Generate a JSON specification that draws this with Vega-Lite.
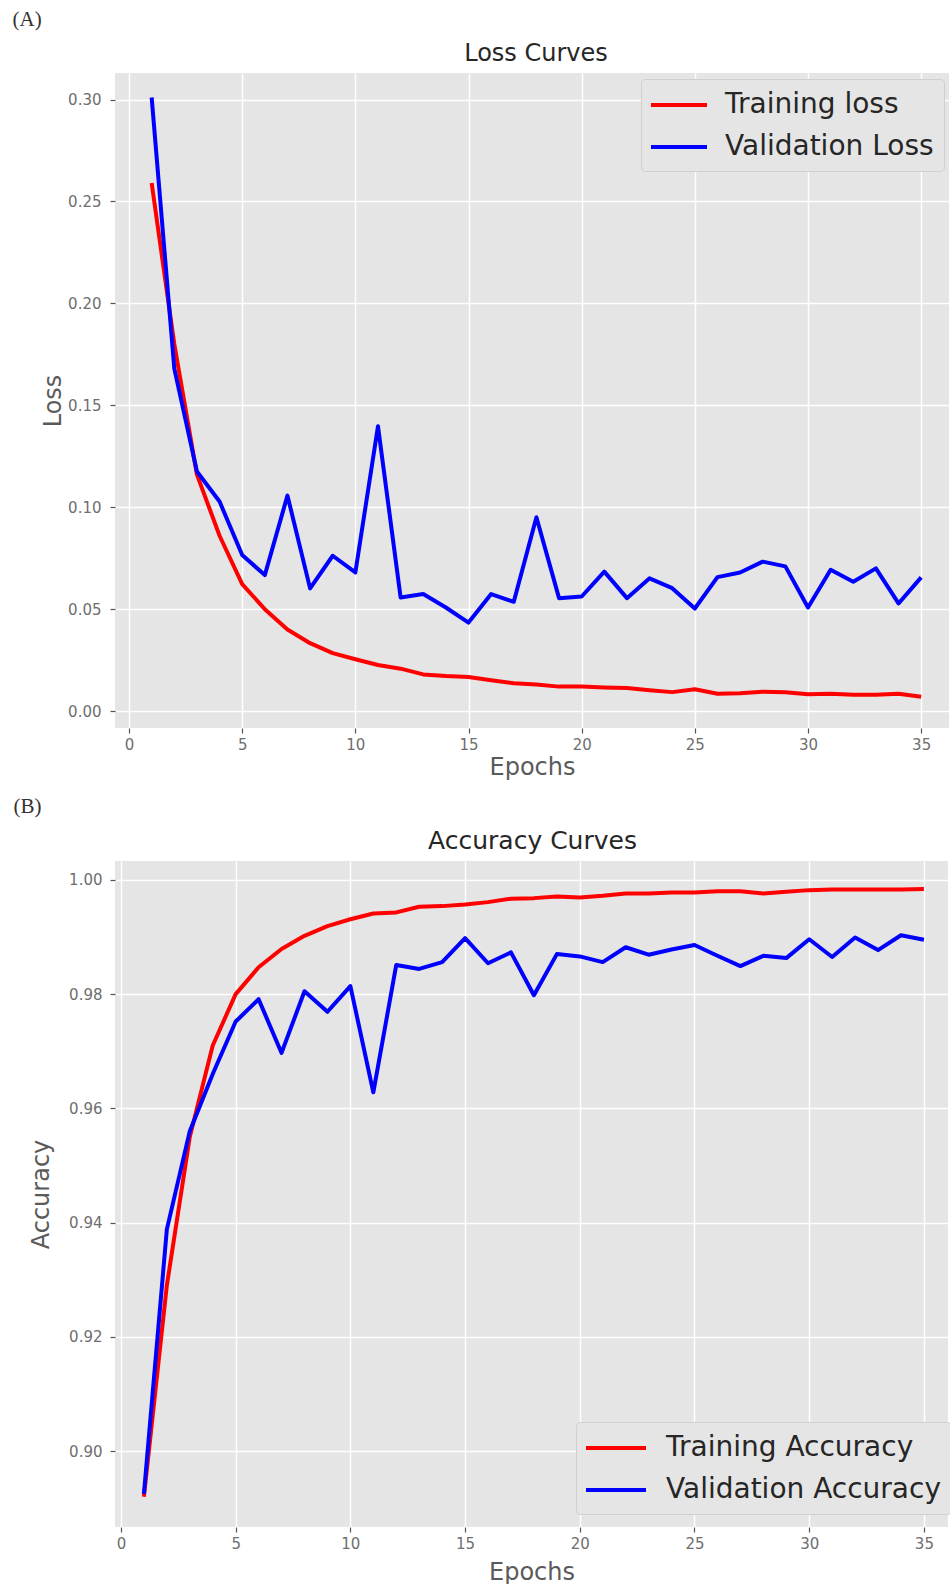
{
  "$schema": "https://vega.github.io/schema/vega-lite/v6.json",
  "padding": {"left": 12, "top": 9, "right": 0, "bottom": 0},
  "background": "white",
  "spacing": 17,
  "resolve": {"scale": {"color": "independent", "x": "independent", "y": "independent"}, "legend": {"color": "independent"}},
  "config": {
    "font": "DejaVu Sans",
    "view": {"fill": "#E5E5E5", "stroke": null},
    "axis": {
      "domain": false, "grid": true, "gridColor": "#FFFFFF", "gridWidth": 1.5,
      "tickColor": "#555555", "tickSize": 5, "tickWidth": 1.2,
      "labelFont": "DejaVu Sans", "labelFontSize": 15, "labelColor": "#6E6E6E",
      "titleFont": "DejaVu Sans", "titleFontSize": 24, "titleFontWeight": "normal", "titleColor": "#5A5A5A"
    },
    "legend": {
      "title": null, "symbolSize": 784, "symbolStrokeWidth": 4,
      "labelFont": "DejaVu Sans", "labelFontSize": 28, "labelColor": "#262626", "labelLimit": 600,
      "padding": 10, "fillColor": "#E5E5E5", "strokeColor": "#CFCFCF", "cornerRadius": 4
    },
    "title": {"font": "DejaVu Sans", "fontWeight": "normal"}
  },
  "datasets": {
    "loss": [
      {"epoch": 1, "series": "Training loss", "value": 0.259},
      {"epoch": 2, "series": "Training loss", "value": 0.180},
      {"epoch": 3, "series": "Training loss", "value": 0.116},
      {"epoch": 4, "series": "Training loss", "value": 0.086},
      {"epoch": 5, "series": "Training loss", "value": 0.0623},
      {"epoch": 6, "series": "Training loss", "value": 0.050},
      {"epoch": 7, "series": "Training loss", "value": 0.040},
      {"epoch": 8, "series": "Training loss", "value": 0.0333},
      {"epoch": 9, "series": "Training loss", "value": 0.0284},
      {"epoch": 10, "series": "Training loss", "value": 0.0254},
      {"epoch": 11, "series": "Training loss", "value": 0.0226},
      {"epoch": 12, "series": "Training loss", "value": 0.0208},
      {"epoch": 13, "series": "Training loss", "value": 0.018},
      {"epoch": 14, "series": "Training loss", "value": 0.0172},
      {"epoch": 15, "series": "Training loss", "value": 0.0167},
      {"epoch": 16, "series": "Training loss", "value": 0.0151},
      {"epoch": 17, "series": "Training loss", "value": 0.0136},
      {"epoch": 18, "series": "Training loss", "value": 0.013},
      {"epoch": 19, "series": "Training loss", "value": 0.012},
      {"epoch": 20, "series": "Training loss", "value": 0.012},
      {"epoch": 21, "series": "Training loss", "value": 0.0116},
      {"epoch": 22, "series": "Training loss", "value": 0.0113},
      {"epoch": 23, "series": "Training loss", "value": 0.0102},
      {"epoch": 24, "series": "Training loss", "value": 0.0093},
      {"epoch": 25, "series": "Training loss", "value": 0.0107},
      {"epoch": 26, "series": "Training loss", "value": 0.0085},
      {"epoch": 27, "series": "Training loss", "value": 0.0087},
      {"epoch": 28, "series": "Training loss", "value": 0.0095},
      {"epoch": 29, "series": "Training loss", "value": 0.0092},
      {"epoch": 30, "series": "Training loss", "value": 0.0082},
      {"epoch": 31, "series": "Training loss", "value": 0.0085},
      {"epoch": 32, "series": "Training loss", "value": 0.008},
      {"epoch": 33, "series": "Training loss", "value": 0.008},
      {"epoch": 34, "series": "Training loss", "value": 0.0085},
      {"epoch": 35, "series": "Training loss", "value": 0.007},
      {"epoch": 1, "series": "Validation Loss", "value": 0.301},
      {"epoch": 2, "series": "Validation Loss", "value": 0.168},
      {"epoch": 3, "series": "Validation Loss", "value": 0.1175},
      {"epoch": 4, "series": "Validation Loss", "value": 0.1028},
      {"epoch": 5, "series": "Validation Loss", "value": 0.0766},
      {"epoch": 6, "series": "Validation Loss", "value": 0.0667},
      {"epoch": 7, "series": "Validation Loss", "value": 0.1057},
      {"epoch": 8, "series": "Validation Loss", "value": 0.0602},
      {"epoch": 9, "series": "Validation Loss", "value": 0.0762},
      {"epoch": 10, "series": "Validation Loss", "value": 0.068},
      {"epoch": 11, "series": "Validation Loss", "value": 0.1397},
      {"epoch": 12, "series": "Validation Loss", "value": 0.0557},
      {"epoch": 13, "series": "Validation Loss", "value": 0.0574},
      {"epoch": 14, "series": "Validation Loss", "value": 0.0508},
      {"epoch": 15, "series": "Validation Loss", "value": 0.0434},
      {"epoch": 16, "series": "Validation Loss", "value": 0.0574},
      {"epoch": 17, "series": "Validation Loss", "value": 0.0536},
      {"epoch": 18, "series": "Validation Loss", "value": 0.0951},
      {"epoch": 19, "series": "Validation Loss", "value": 0.0554},
      {"epoch": 20, "series": "Validation Loss", "value": 0.0562},
      {"epoch": 21, "series": "Validation Loss", "value": 0.0684},
      {"epoch": 22, "series": "Validation Loss", "value": 0.0554},
      {"epoch": 23, "series": "Validation Loss", "value": 0.0651},
      {"epoch": 24, "series": "Validation Loss", "value": 0.0603},
      {"epoch": 25, "series": "Validation Loss", "value": 0.0503},
      {"epoch": 26, "series": "Validation Loss", "value": 0.0657},
      {"epoch": 27, "series": "Validation Loss", "value": 0.068},
      {"epoch": 28, "series": "Validation Loss", "value": 0.0733},
      {"epoch": 29, "series": "Validation Loss", "value": 0.071},
      {"epoch": 30, "series": "Validation Loss", "value": 0.0508},
      {"epoch": 31, "series": "Validation Loss", "value": 0.0693},
      {"epoch": 32, "series": "Validation Loss", "value": 0.0634},
      {"epoch": 33, "series": "Validation Loss", "value": 0.070},
      {"epoch": 34, "series": "Validation Loss", "value": 0.0528},
      {"epoch": 35, "series": "Validation Loss", "value": 0.0656}
    ],
    "acc": [
      {"epoch": 1, "series": "Training Accuracy", "value": 0.892},
      {"epoch": 2, "series": "Training Accuracy", "value": 0.929},
      {"epoch": 3, "series": "Training Accuracy", "value": 0.955},
      {"epoch": 4, "series": "Training Accuracy", "value": 0.971},
      {"epoch": 5, "series": "Training Accuracy", "value": 0.980},
      {"epoch": 6, "series": "Training Accuracy", "value": 0.9847},
      {"epoch": 7, "series": "Training Accuracy", "value": 0.9879},
      {"epoch": 8, "series": "Training Accuracy", "value": 0.9902},
      {"epoch": 9, "series": "Training Accuracy", "value": 0.9919},
      {"epoch": 10, "series": "Training Accuracy", "value": 0.9931},
      {"epoch": 11, "series": "Training Accuracy", "value": 0.9941},
      {"epoch": 12, "series": "Training Accuracy", "value": 0.9943},
      {"epoch": 13, "series": "Training Accuracy", "value": 0.9953},
      {"epoch": 14, "series": "Training Accuracy", "value": 0.9954},
      {"epoch": 15, "series": "Training Accuracy", "value": 0.9957},
      {"epoch": 16, "series": "Training Accuracy", "value": 0.9961},
      {"epoch": 17, "series": "Training Accuracy", "value": 0.9967},
      {"epoch": 18, "series": "Training Accuracy", "value": 0.9968},
      {"epoch": 19, "series": "Training Accuracy", "value": 0.9971},
      {"epoch": 20, "series": "Training Accuracy", "value": 0.9969},
      {"epoch": 21, "series": "Training Accuracy", "value": 0.9972},
      {"epoch": 22, "series": "Training Accuracy", "value": 0.9976},
      {"epoch": 23, "series": "Training Accuracy", "value": 0.9976},
      {"epoch": 24, "series": "Training Accuracy", "value": 0.9978},
      {"epoch": 25, "series": "Training Accuracy", "value": 0.9978},
      {"epoch": 26, "series": "Training Accuracy", "value": 0.998},
      {"epoch": 27, "series": "Training Accuracy", "value": 0.998},
      {"epoch": 28, "series": "Training Accuracy", "value": 0.9976},
      {"epoch": 29, "series": "Training Accuracy", "value": 0.9979},
      {"epoch": 30, "series": "Training Accuracy", "value": 0.9982},
      {"epoch": 31, "series": "Training Accuracy", "value": 0.9983},
      {"epoch": 32, "series": "Training Accuracy", "value": 0.9983},
      {"epoch": 33, "series": "Training Accuracy", "value": 0.9983},
      {"epoch": 34, "series": "Training Accuracy", "value": 0.9983},
      {"epoch": 35, "series": "Training Accuracy", "value": 0.9984},
      {"epoch": 1, "series": "Validation Accuracy", "value": 0.8925},
      {"epoch": 2, "series": "Validation Accuracy", "value": 0.9388},
      {"epoch": 3, "series": "Validation Accuracy", "value": 0.956},
      {"epoch": 4, "series": "Validation Accuracy", "value": 0.966},
      {"epoch": 5, "series": "Validation Accuracy", "value": 0.9752},
      {"epoch": 6, "series": "Validation Accuracy", "value": 0.9791},
      {"epoch": 7, "series": "Validation Accuracy", "value": 0.9697},
      {"epoch": 8, "series": "Validation Accuracy", "value": 0.9805},
      {"epoch": 9, "series": "Validation Accuracy", "value": 0.9769},
      {"epoch": 10, "series": "Validation Accuracy", "value": 0.9814},
      {"epoch": 11, "series": "Validation Accuracy", "value": 0.9628},
      {"epoch": 12, "series": "Validation Accuracy", "value": 0.9851},
      {"epoch": 13, "series": "Validation Accuracy", "value": 0.9844},
      {"epoch": 14, "series": "Validation Accuracy", "value": 0.9856},
      {"epoch": 15, "series": "Validation Accuracy", "value": 0.9898},
      {"epoch": 16, "series": "Validation Accuracy", "value": 0.9854},
      {"epoch": 17, "series": "Validation Accuracy", "value": 0.9873},
      {"epoch": 18, "series": "Validation Accuracy", "value": 0.9798},
      {"epoch": 19, "series": "Validation Accuracy", "value": 0.987},
      {"epoch": 20, "series": "Validation Accuracy", "value": 0.9866},
      {"epoch": 21, "series": "Validation Accuracy", "value": 0.9856},
      {"epoch": 22, "series": "Validation Accuracy", "value": 0.9882},
      {"epoch": 23, "series": "Validation Accuracy", "value": 0.9869},
      {"epoch": 24, "series": "Validation Accuracy", "value": 0.9878},
      {"epoch": 25, "series": "Validation Accuracy", "value": 0.9886},
      {"epoch": 26, "series": "Validation Accuracy", "value": 0.9867},
      {"epoch": 27, "series": "Validation Accuracy", "value": 0.9849},
      {"epoch": 28, "series": "Validation Accuracy", "value": 0.9867},
      {"epoch": 29, "series": "Validation Accuracy", "value": 0.9863},
      {"epoch": 30, "series": "Validation Accuracy", "value": 0.9896},
      {"epoch": 31, "series": "Validation Accuracy", "value": 0.9865},
      {"epoch": 32, "series": "Validation Accuracy", "value": 0.9899},
      {"epoch": 33, "series": "Validation Accuracy", "value": 0.9877},
      {"epoch": 34, "series": "Validation Accuracy", "value": 0.9903},
      {"epoch": 35, "series": "Validation Accuracy", "value": 0.9895}
    ]
  },
  "vconcat": [
    {
      "title": {"text": "(A)", "anchor": "start", "font": "Liberation Serif", "fontSize": 21, "fontWeight": "normal", "color": "#333333", "dx": -15.5, "offset": 12},
      "resolve": {"scale": {"color": "independent"}, "legend": {"color": "independent"}},
      "vconcat": [
        {
          "width": 834,
          "height": 655,
          "title": {"text": "Loss Curves", "fontSize": 24, "color": "#262626", "anchor": "middle", "frame": "group", "offset": 7, "dx": 4},
          "data": {"name": "loss"},
          "mark": {"type": "line", "strokeWidth": 4, "strokeJoin": "round"},
          "encoding": {
            "x": {"field": "epoch", "type": "quantitative",
                  "scale": {"domain": [-0.62, 36.23], "nice": false, "zero": false},
                  "axis": {"values": [0, 5, 10, 15, 20, 25, 30, 35], "title": "Epochs", "labelPadding": 4, "titlePadding": 3}},
            "y": {"field": "value", "type": "quantitative",
                  "scale": {"domain": [-0.0083, 0.313], "nice": false, "zero": false},
                  "axis": {"values": [0, 0.05, 0.1, 0.15, 0.2, 0.25, 0.3], "format": ".2f", "title": [" ", "Loss"], "titleLineHeight": 13, "labelPadding": 9, "titlePadding": 2.5}},
            "color": {"field": "series", "type": "nominal",
                      "scale": {"domain": ["Training loss", "Validation Loss"], "range": ["#FF0000", "#0000FF"]},
                      "legend": {"orient": "none", "legendX": 526, "legendY": 6, "symbolType": "M-1.143,0H2.857", "labelOffset": 42, "rowPadding": 12}}
          }
        }
      ]
    },
    {
      "title": {"text": "(B)", "anchor": "start", "font": "Liberation Serif", "fontSize": 21, "fontWeight": "normal", "color": "#333333", "dx": -15.5, "offset": 12},
      "resolve": {"scale": {"color": "independent"}, "legend": {"color": "independent"}},
      "vconcat": [
        {
          "width": 833,
          "height": 666,
          "title": {"text": "Accuracy Curves", "fontSize": 25, "color": "#262626", "anchor": "middle", "frame": "group", "offset": 7, "dx": 1},
          "data": {"name": "acc"},
          "mark": {"type": "line", "strokeWidth": 4, "strokeJoin": "round"},
          "encoding": {
            "x": {"field": "epoch", "type": "quantitative",
                  "scale": {"domain": [-0.26, 36.05], "nice": false, "zero": false},
                  "axis": {"values": [0, 5, 10, 15, 20, 25, 30, 35], "title": "Epochs", "labelPadding": 4, "titlePadding": 9}},
            "y": {"field": "value", "type": "quantitative",
                  "scale": {"domain": [0.8867, 1.0033], "nice": false, "zero": false},
                  "axis": {"values": [0.9, 0.92, 0.94, 0.96, 0.98, 1.0], "format": ".2f", "title": "Accuracy", "labelPadding": 8, "titlePadding": 15.5}},
            "color": {"field": "series", "type": "nominal",
                      "scale": {"domain": ["Training Accuracy", "Validation Accuracy"], "range": ["#FF0000", "#0000FF"]},
                      "legend": {"orient": "none", "legendX": 461, "legendY": 561, "symbolType": "M-1.143,0H3.143", "labelOffset": 48, "rowPadding": 12}}
          }
        }
      ]
    }
  ]
}
